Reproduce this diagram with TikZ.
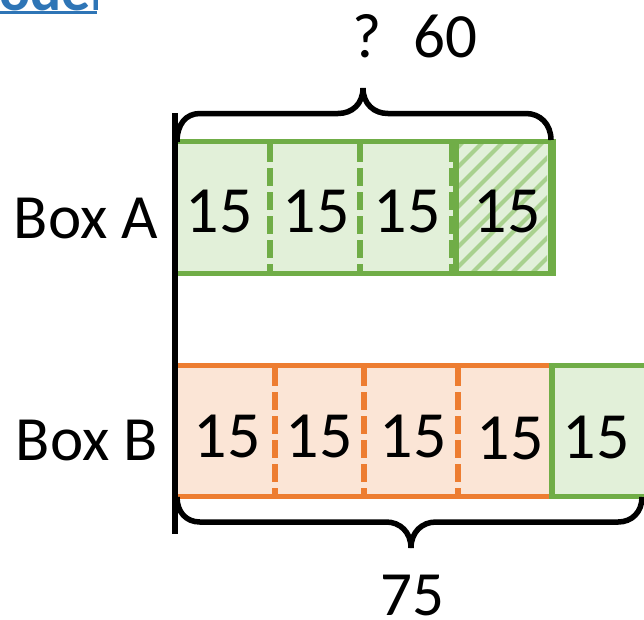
\documentclass[tikz,border=0pt]{standalone}
\usepackage{fontspec}
\setmainfont{Carlito}
\definecolor{grn}{HTML}{70AD47}
\definecolor{grnfill}{HTML}{E2F0D9}
\definecolor{hatch}{HTML}{A9D18E}
\definecolor{org}{HTML}{ED7D31}
\definecolor{orgfill}{HTML}{FBE5D6}
\definecolor{lnk}{HTML}{2E75B6}
\tikzset{
  val/.style={font=\fontsize{66}{66}\selectfont, text=black, inner sep=0pt, anchor=center},
  boxlabel/.style={font=\fontsize{63}{63}\selectfont, text=black, inner sep=0pt, anchor=center},
  edgeline/.style={line width=5.5pt},
  divider/.style={line width=6pt, dash pattern=on 18pt off 6pt},
  bracket/.style={line width=5.5pt, black, line cap=butt},
}
\begin{document}
\begin{tikzpicture}[x=1pt,y=-1pt]
\useasboundingbox (0,0) rectangle (644,619);
% clipped link text at the top
\begin{scope}
\clip (0,0) rectangle (97,15);
\node[anchor=base west, inner sep=0pt, text=lnk, font=\fontsize{58}{58}\bfseries\selectfont] (lnk) at (-1,10) {odel};
\fill[lnk] (0,10.5) rectangle (97,14);
\end{scope}
% Box A
\fill[grnfill] (175,141.5) rectangle (552,273.5);
\begin{scope}
\clip (458,144) rectangle (547,271);
\foreach \k in {-8,...,12} {
  \draw[hatch,line width=4pt] ({440+20*\k},285) -- ({440+20*\k+150},135);
}
\end{scope}
\draw[grn,divider] (270,144) -- (270,271);
\draw[grn,divider] (360,144) -- (360,271);
\draw[grn,divider] (452,144) -- (452,271);
\draw[grn,line width=5.5pt] (456,141.5) -- (456,273.5);
\draw[grn,edgeline] (175,141.5) -- (556,141.5);
\draw[grn,edgeline] (175,273.5) -- (556,273.5);
\draw[grn,line width=8pt] (552,139) -- (552,276);
% Box B
\fill[orgfill] (175,365.5) rectangle (552,496.5);
\fill[grnfill] (552,365.5) rectangle (644,496.5);
\draw[org,divider] (275,368) -- (275,494);
\draw[org,divider] (364,368) -- (364,494);
\draw[org,divider] (458,368) -- (458,494);
\draw[org,edgeline] (175,365.5) -- (552,365.5);
\draw[org,edgeline] (175,496.5) -- (552,496.5);
\draw[grn,edgeline] (552,363) -- (552,499);
\draw[grn,edgeline] (549.5,365.5) -- (644,365.5);
\draw[grn,edgeline] (549.5,496.5) -- (644,496.5);
% Axis
\draw[bracket] (175,113) -- (175,534);
% Top brace
\draw[bracket] (177,142) .. controls (177,124) and (186,113.5) .. (200,113.5)
  -- (338,113.5) .. controls (352,113.5) and (363,104) .. (363,88);
\draw[bracket] (363,88) .. controls (363,104) and (374,113.5) .. (388,113.5)
  -- (526,113.5) .. controls (540,113.5) and (551,124) .. (551,140);
% Bottom brace
\draw[bracket] (177,497) .. controls (177,512) and (186,522) .. (200,522)
  -- (386,522) .. controls (400,522) and (411,532) .. (411,548);
\draw[bracket] (411,548) .. controls (411,532) and (422,522) .. (436,522)
  -- (618,522) .. controls (632,522) and (642,512) .. (642,497);
% Labels
\node[boxlabel] (lblA) at (86,218) {Box A};
\node[boxlabel] (lblB) at (87,440) {Box B};
\node[val] (a1) at (219,211) {15};
\node[val] (a2) at (316,211) {15};
\node[val] (a3) at (407,211) {15};
\node[val] (a4) at (507,211) {15};
\node[val] (b1) at (227,436) {15};
\node[val] (b2) at (319,436) {15};
\node[val] (b3) at (413,436) {15};
\node[val] (b4) at (510,438) {15};
\node[val] (b5) at (596,437) {15};
\node[boxlabel] (q) at (367,36) {?};
\node[boxlabel] (sixty) at (445,36) {60};
\node[boxlabel] (sf) at (412,595) {75};
\end{tikzpicture}
\end{document}
